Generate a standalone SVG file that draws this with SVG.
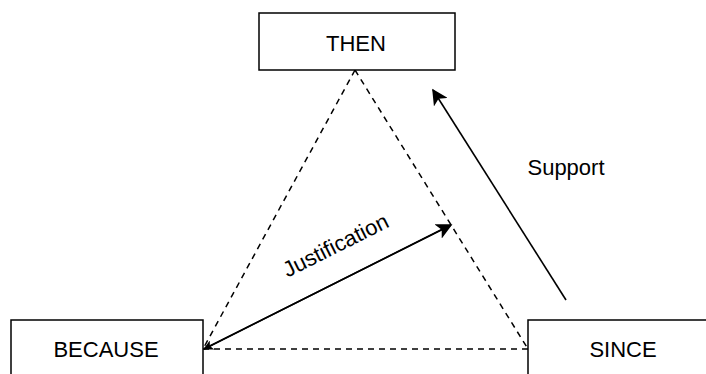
<svg xmlns="http://www.w3.org/2000/svg" width="706" height="374" viewBox="0 0 706 374">
  <style>
    .box { fill: #ffffff; stroke: #000000; stroke-width: 1.5; }
    .lbl { font-family: "Liberation Sans", Arial, sans-serif; font-size: 22px; fill: #000000; }
    .dash { fill: none; stroke: #000000; stroke-width: 1.5; stroke-dasharray: 6 5; }
    .solid { fill: none; stroke: #000000; stroke-width: 1.6; }
  </style>
  <defs>
    <marker id="arrow" viewBox="0 0 10 10" refX="9" refY="5" markerWidth="10" markerHeight="10" markerUnits="userSpaceOnUse" orient="auto">
      <path d="M0,0 L10,5 L0,10 L2.5,5 Z" fill="#000000"/>
    </marker>
    <marker id="arrowL" viewBox="0 0 10 10" refX="9" refY="5" markerWidth="16" markerHeight="16" markerUnits="userSpaceOnUse" orient="auto">
      <path d="M0,0 L10,5 L0,10 L2.5,5 Z" fill="#000000"/>
    </marker>
  </defs>

  <g id="connectors">
    <line class="dash" x1="355" y1="70" x2="203" y2="349"/>
    <line class="dash" x1="355" y1="70" x2="528" y2="349"/>
    <line class="dash" x1="203" y1="349" x2="528" y2="349"/>
    <line class="solid" x1="451" y1="225" x2="204" y2="349" marker-end="url(#arrow)"/>
    <line class="solid" x1="204" y1="349" x2="451" y2="225" marker-end="url(#arrowL)"/>
    <line class="solid" x1="566" y1="300" x2="433" y2="90" marker-end="url(#arrowL)"/>
    <text class="lbl" x="566" y="175" text-anchor="middle">Support</text>
    <text class="lbl" x="339" y="252" text-anchor="middle" transform="rotate(-26.6 339 252)">Justification</text>
  </g>

  <g id="then">
    <rect class="box" x="259" y="13" width="196" height="57"/>
    <text class="lbl" x="356" y="51" text-anchor="middle">THEN</text>
  </g>

  <g id="because">
    <rect class="box" x="11" y="320" width="192" height="70"/>
    <text class="lbl" x="106" y="357" text-anchor="middle">BECAUSE</text>
  </g>

  <g id="since">
    <rect class="box" x="528" y="320" width="192" height="70"/>
    <text class="lbl" x="623" y="357" text-anchor="middle">SINCE</text>
  </g>
</svg>
